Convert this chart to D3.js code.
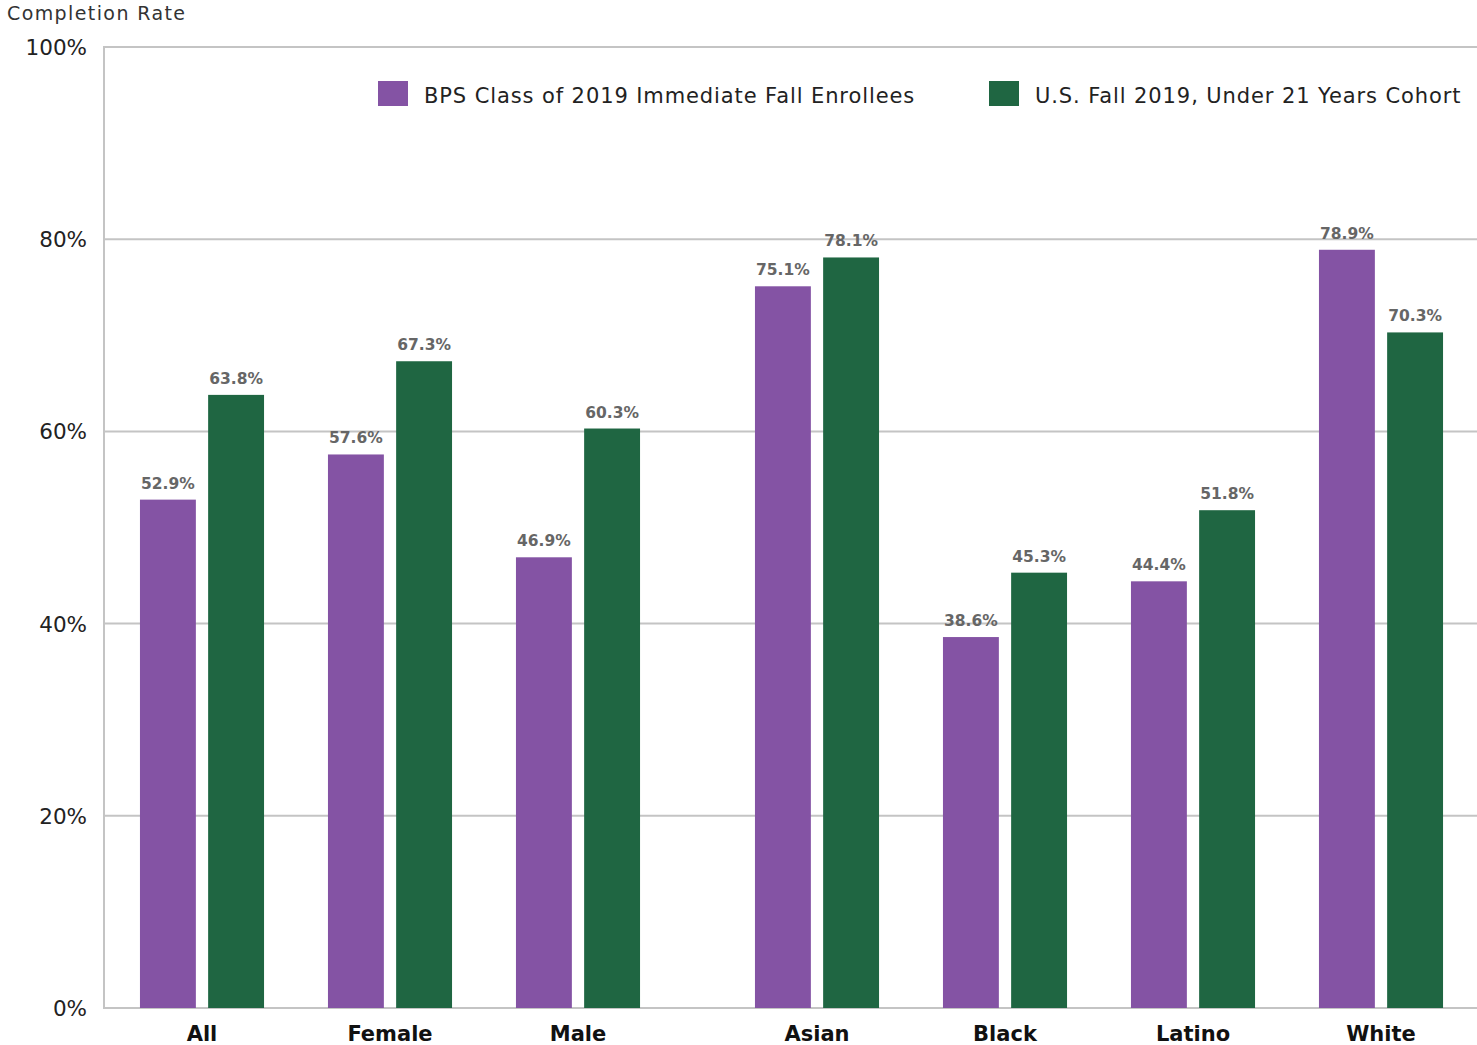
<!DOCTYPE html>
<html><head><meta charset="utf-8">
<script src="https://cdn.jsdelivr.net/npm/d3@7/dist/d3.min.js"></script>
<style>body{margin:0;background:#fff}svg{display:block}</style>
</head><body><svg id="c" width="1477" height="1045"></svg>
<script>
const categories = ["All","Female","Male","Asian","Black","Latino","White"];
const groups = ["gender","gender","gender","race","race","race","race"];
const seriesNames = ["BPS Class of 2019 Immediate Fall Enrollees","U.S. Fall 2019, Under 21 Years Cohort"];
const bpsValues = [52.9,57.6,46.9,75.1,38.6,44.4,78.9];
const usValues = [63.8,67.3,60.3,78.1,45.3,51.8,70.3];
const yTicks = [0,20,40,60,80,100];
const yTitle = "Completion Rate";

(function(){
const colors = ["#8453A4","#1F6642"];
const font = "'DejaVu Sans', sans-serif";
const svg = d3.select("#c");
const pLeft = 104, pRight = 1477, pTop = 47, pBottom = 1008;
const groupGap = 51;

const y = d3.scaleLinear().domain([0,100]).range([pBottom, pTop]);
const x0 = d3.scaleBand().domain(categories).range([108,1424]).paddingInner(0.34).paddingOuter(0.17);
const x1 = d3.scaleBand().domain([0,1]).range([0,x0.bandwidth()]).paddingInner(0.18);
const xPos = (c,i) => x0(c) + (groups[i]==="race" ? groupGap : 0);

svg.append("g").selectAll("line").data(yTicks).join("line")
  .attr("x1",pLeft).attr("x2",pRight).attr("y1",d=>y(d)).attr("y2",d=>y(d))
  .attr("stroke","#c4c4c4").attr("stroke-width",2);
svg.append("line").attr("x1",pLeft).attr("x2",pLeft).attr("y1",pTop-1).attr("y2",pBottom+1)
  .attr("stroke","#c4c4c4").attr("stroke-width",2);

svg.append("g").selectAll("text").data(yTicks).join("text")
  .attr("x",87).attr("y",d=>y(d)+8).attr("text-anchor","end")
  .attr("font-family",font).attr("font-size",21.5).attr("fill","#222")
  .text(d=>d+"%");

svg.append("text").attr("x",7).attr("y",20).attr("font-family",font).attr("font-size",19)
  .attr("letter-spacing",1.4).attr("fill","#333").text(yTitle);

const series = [bpsValues, usValues];
const g = svg.append("g");
categories.forEach((c,i)=>{
  series.forEach((vals,s)=>{
    const bx = xPos(c,i) + x1(s);
    g.append("rect").attr("x",bx).attr("y",y(vals[i])).attr("width",x1.bandwidth())
      .attr("height",y(0)-y(vals[i])).attr("fill",colors[s]);
    g.append("text").attr("x",bx + x1.bandwidth()/2).attr("y",y(vals[i])-11)
      .attr("text-anchor","middle").attr("font-family",font).attr("font-weight","bold")
      .attr("font-size",15.5).attr("fill","#666").text(vals[i].toFixed(1)+"%");
  });
  svg.append("text").attr("x",xPos(c,i)+x0.bandwidth()/2).attr("y",1041)
    .attr("text-anchor","middle").attr("font-family",font).attr("font-weight","bold")
    .attr("font-size",21).attr("fill","#111").text(c);
});

const legX = [378, 989];
seriesNames.forEach((n,s)=>{
  svg.append("rect").attr("x",legX[s]).attr("y",81).attr("width",30).attr("height",25).attr("fill",colors[s]);
  svg.append("text").attr("x",legX[s]+46).attr("y",103).attr("font-family",font)
    .attr("font-size",21).attr("letter-spacing",0.9).attr("fill","#222").text(n);
});
})();
</script></body></html>
